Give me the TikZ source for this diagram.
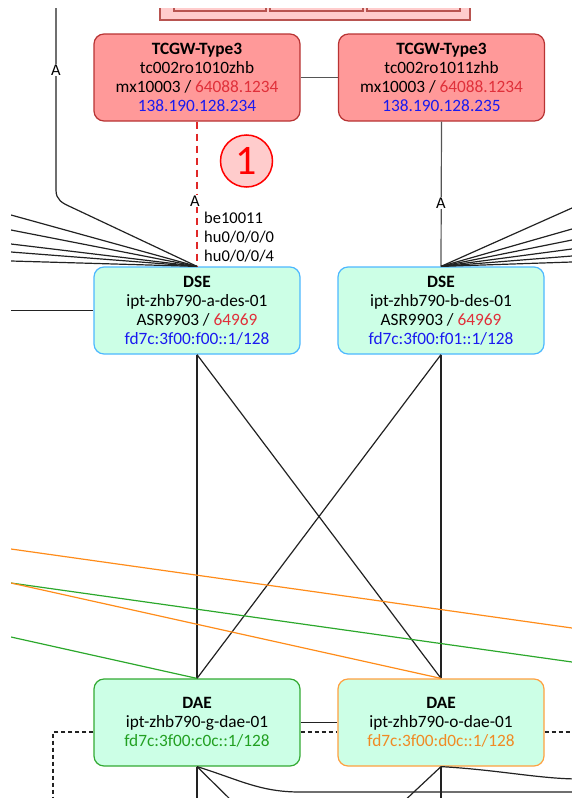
\documentclass[tikz,border=0pt]{standalone}
\usepackage{fontspec}
\setmainfont{Carlito}
\usetikzlibrary{calc}
\definecolor{tcfill}{HTML}{FF9999}
\definecolor{tcdraw}{HTML}{B83333}
\definecolor{topfill}{HTML}{FFCCCC}
\definecolor{topdraw}{HTML}{B85450}
\definecolor{mint}{HTML}{CCFFE6}
\definecolor{dseblue}{HTML}{4DB8FF}
\definecolor{daegreen}{HTML}{33AA33}
\definecolor{daeorange}{HTML}{FFA040}
\definecolor{txtred}{HTML}{E0303A}
\definecolor{txtblue}{HTML}{1A1AF0}
\definecolor{txtgreen}{HTML}{22A022}
\definecolor{txtorange}{HTML}{F08A24}
\definecolor{linegray}{HTML}{222222}
\definecolor{midgray}{HTML}{555555}
\definecolor{lorange}{HTML}{FF8C1A}
\definecolor{lgreen}{HTML}{2CA82C}
\definecolor{reddash}{HTML}{E02828}
\begin{document}
\begin{tikzpicture}[x=1pt,y=-1pt,
  box/.style={rounded corners=10pt, minimum width=206pt, minimum height=87pt, inner sep=0pt, align=center, font=\fontsize{17.3}{19}\selectfont, line width=1.2pt},
  tcgw/.style={box, fill=tcfill, draw=tcdraw},
  dse/.style={box, fill=mint, draw=dseblue},
  daeg/.style={box, fill=mint, draw=daegreen},
  daeo/.style={box, fill=mint, draw=daeorange},
  topbox/.style={fill=topfill, draw=topdraw, line width=1.2pt},
  link/.style={draw=linegray, line width=1.2pt},
  graylink/.style={draw=midgray, line width=1.2pt},
  dashlink/.style={draw=linegray, line width=1.2pt, dash pattern=on 4pt off 3pt},
  redlink/.style={draw=reddash, line width=2.5pt, dash pattern=on 7pt off 5pt},
  olink/.style={draw=lorange, line width=1.2pt},
  glink/.style={draw=lgreen, line width=1.2pt},
  lbl/.style={fill=white, inner sep=1pt, font=\fontsize{16.5}{16.5}\selectfont},
  iflbl/.style={anchor=west, inner sep=0pt, font=\fontsize{16.5}{16.5}\selectfont},
]
\useasboundingbox (0,0) rectangle (572,798);
\clip (11,8) rectangle (572,798);

% top partial box
\draw[topbox] (160,-10) rectangle (470,20);
\draw[topbox] (174,-10) rectangle (266,11);
\draw[topbox] (270,-10) rectangle (363,11);
\draw[topbox] (367,-10) rectangle (460,11);

% nodes
\node[tcgw] (t1) at (197,77.5) {\textbf{TCGW-Type3}\\tc002ro1010zhb\\mx10003 / \textcolor{txtred}{64088.1234}\\\textcolor{txtblue}{138.190.128.234}};
\node[tcgw] (t2) at (441.5,77.5) {\textbf{TCGW-Type3}\\tc002ro1011zhb\\mx10003 / \textcolor{txtred}{64088.1234}\\\textcolor{txtblue}{138.190.128.235}};
\node[dse] (da) at (197,310.5) {\textbf{DSE}\\ipt-zhb790-a-des-01\\ASR9903 / \textcolor{txtred}{64969}\\\textcolor{txtblue}{fd7c:3f00:f00::1/128}};
\node[dse] (db) at (441,310.5) {\textbf{DSE}\\ipt-zhb790-b-des-01\\ASR9903 / \textcolor{txtred}{64969}\\\textcolor{txtblue}{fd7c:3f00:f01::1/128}};
\node[daeg] (dg) at (197,722.5) {\textbf{DAE}\\ipt-zhb790-g-dae-01\\\textcolor{txtgreen}{fd7c:3f00:c0c::1/128}};
\node[daeo] (do) at (441,722.5) {\textbf{DAE}\\ipt-zhb790-o-dae-01\\\textcolor{txtorange}{fd7c:3f00:d0c::1/128}};

% circle marker
\node[circle, minimum size=52pt, inner sep=0pt, fill=topfill, draw=red, line width=1.5pt, text=red, font=\fontsize{42}{42}\selectfont] (m1) at (246.5,161) {1};

% TCGW interconnect
\draw[graylink] (t1.east) -- (t2.west);

% red dashed link
\draw[redlink] (t1.south) -- (da.north);
\node[lbl] (la) at (195,201) {A};
\node[iflbl] (if1) at (204,218) {be10011};
\node[iflbl] (if2) at (204,237) {hu0/0/0/0};
\node[iflbl] (if3) at (204,256) {hu0/0/0/4};

% right TCGW to DSE b
\draw[graylink] (t2.south) -- (db.north);
\node[lbl] (lb) at (441,203) {A};

% long left line with A
\coordinate (ltop) at (56,0);
\draw[link] (ltop) -- (56,190) .. controls (56,200) and (62,203) .. (72,207.5) -- (da.north);
\node[lbl] (lc) at (56,70) {A};

% left fan
\foreach \yy/\nm in {215/f1,230/f2,244/f3,252/f4,261/f5}{
  \coordinate (\nm) at (11,\yy);
  \draw[link] (\nm) -- (da.north);
}
\coordinate (hl) at (11,310.5);
\draw[link] (hl) -- (da.west);

% right fan
\foreach \yy/\nm in {208/g1,229/g2,240/g3,249/g4,256/g5,262/g6}{
  \coordinate (\nm) at (572,\yy);
  \draw[link] (db.north) -- (\nm);
}

% DSE to DAE
\draw[link] (da.south) -- (dg.north);
\draw[link] (da.south) -- (do.north);
\draw[link] (db.south) -- (do.north);
\draw[link] (db.south) -- (dg.north);

% coloured long lines
\coordinate (o1a) at (11,549);
\coordinate (o1b) at (572,628);
\coordinate (g1a) at (11,583);
\coordinate (g1b) at (572,662);
\coordinate (g2a) at (11,637);
\draw[olink] (o1a) -- (o1b);
\draw[glink] (g1a) -- (g1b);
\draw[olink] (g1a) -- (do.north);
\draw[glink] (g2a) -- (dg.north);

% between DAE
\draw[link] (dg.east) -- (do.west);
\draw[dashlink] (dg.east |- 0,732) -- (do.west |- 0,732);
\draw[dashlink] (do.east |- 0,732) -- (580,732);
\draw[dashlink] (dg.west |- 0,732) -- (53,732) -- (53,805);

% below DAE
\draw[link] (dg.south) -- (197,805);
\draw[link] (dg.south) -- (236,805);
\draw[link] (dg.south) .. controls (240,780) and (260,792) .. (300,792) -- (580,792);
\draw[link] (do.south) -- (441,805);
\draw[link] (do.south) -- (400,805);
\draw[link] (do.south) .. controls (500,770) and (540,779) .. (580,779);
\end{tikzpicture}
\end{document}
